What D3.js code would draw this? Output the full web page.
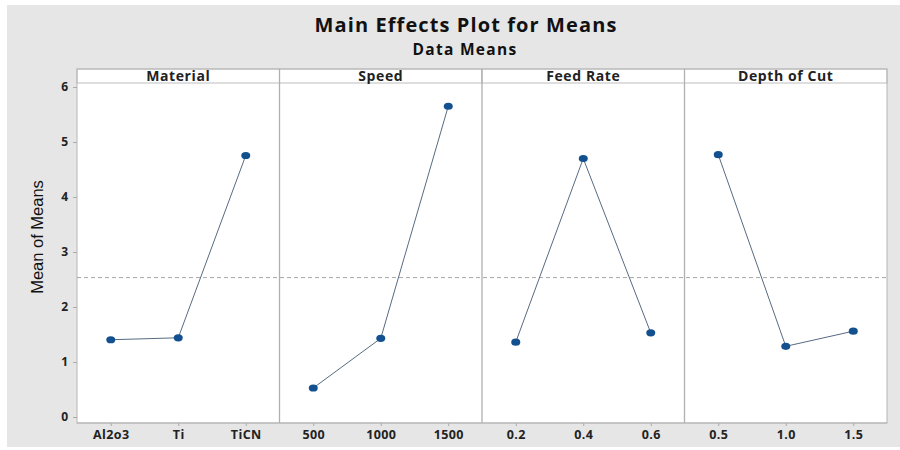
<!DOCTYPE html>
<html>
<head>
<meta charset="utf-8">
<script src="https://cdn.jsdelivr.net/npm/d3@7"></script>
<style>
  html, body { margin: 0; padding: 0; background: #ffffff; }
  svg { display: block; }
</style>
</head>
<body>
<svg id="chart" width="900" height="450"></svg>
<script>
// Factor names and their levels
const factors = ["Material", "Speed", "Feed Rate", "Depth of Cut"];
const materialLevels = ["Al2o3", "Ti", "TiCN"];
const speedLevels = ["500", "1000", "1500"];
const feedLevels = ["0.2", "0.4", "0.6"];
const depthLevels = ["0.5", "1.0", "1.5"];

// Mean of means for each factor level
const materialMeans = [1.405, 1.44, 4.755];
const speedMeans = [0.527, 1.43, 5.65];
const feedMeans = [1.36, 4.70, 1.53];
const depthMeans = [4.77, 1.285, 1.56];

// Overall mean (reference line)
const grandMean = 2.535;

// Y axis ticks
const yTicks = [0, 1, 2, 3, 4, 5, 6];

const levelSets = [materialLevels, speedLevels, feedLevels, depthLevels];
const meanSets = [materialMeans, speedMeans, feedMeans, depthMeans];

const svg = d3.select("#chart");
const W = 900, H = 450;
const uiFont = "'Open Sans', 'Noto Sans', sans-serif";

// Outer gray backdrop
svg.append("rect")
  .attr("x", 7).attr("y", 5).attr("width", W - 7).attr("height", 442)
  .attr("fill", "#e6e6e6");

// Titles
svg.append("text")
  .attr("x", 466).attr("y", 32)
  .attr("text-anchor", "middle")
  .attr("font-family", uiFont)
  .attr("font-weight", 700)
  .attr("font-size", 20)
  .attr("letter-spacing", 1.1)
  .attr("fill", "#111")
  .text("Main Effects Plot for Means");
svg.append("text")
  .attr("x", 465).attr("y", 55)
  .attr("text-anchor", "middle")
  .attr("font-family", uiFont)
  .attr("font-weight", 700)
  .attr("font-size", 15.5)
  .attr("letter-spacing", 1.3)
  .attr("fill", "#111")
  .text("Data Means");

// Plot geometry
const left = 77, right = 887;
const stripTop = 69, stripBottom = 83, plotBottom = 423;

const y = d3.scaleLinear().domain([0, 6]).range([417, 87]);

const panelBand = d3.scaleBand().domain(factors).range([left, right]).padding(0);

// Plot area and strips
factors.forEach((f, i) => {
  const x0 = panelBand(f);
  const g = svg.append("g");
  g.append("rect")
    .attr("x", x0).attr("y", stripBottom)
    .attr("width", panelBand.bandwidth()).attr("height", plotBottom - stripBottom)
    .attr("fill", "#ffffff");
  g.append("rect")
    .attr("x", x0).attr("y", stripTop)
    .attr("width", panelBand.bandwidth()).attr("height", stripBottom - stripTop)
    .attr("fill", "#ffffff")
    .attr("stroke", "#bdbdbd").attr("stroke-width", 1);
  g.append("text")
    .attr("x", x0 + panelBand.bandwidth() / 2).attr("y", stripTop + 11.5)
    .attr("text-anchor", "middle")
    .attr("font-family", uiFont)
    .attr("font-weight", 700)
    .attr("font-size", 14)
    .attr("letter-spacing", 0.6)
    .attr("fill", "#222")
    .text(f);
});

// Panel frame and dividers
svg.append("rect")
  .attr("x", left).attr("y", stripTop)
  .attr("width", right - left).attr("height", plotBottom - stripTop)
  .attr("fill", "none").attr("stroke", "#b5b5b5").attr("stroke-width", 1);
factors.slice(1).forEach(f => {
  svg.append("line")
    .attr("x1", panelBand(f)).attr("x2", panelBand(f))
    .attr("y1", stripTop).attr("y2", plotBottom)
    .attr("stroke", "#b0b0b0").attr("stroke-width", 1.3);
});

// Y axis
const yAxis = d3.axisLeft(y).tickValues(yTicks).tickSize(4).tickPadding(5).tickFormat(d3.format("d"));
const yg = svg.append("g").attr("transform", `translate(${left},0)`).call(yAxis);
yg.select(".domain").remove();
yg.selectAll(".tick line").attr("stroke", "#aaa");
yg.selectAll(".tick text")
  .attr("font-family", uiFont)
  .attr("font-weight", 700).attr("font-size", 12).attr("fill", "#222");

svg.append("text")
  .attr("transform", "translate(43,237) rotate(-90)")
  .attr("text-anchor", "middle")
  .attr("font-family", "'Liberation Sans Narrow', 'Arial Narrow', 'Liberation Sans', sans-serif")
  .attr("font-size", 16.5)
  .attr("fill", "#111")
  .text("Mean of Means");

// Grand mean reference line
svg.append("line")
  .attr("x1", left).attr("x2", right)
  .attr("y1", y(grandMean)).attr("y2", y(grandMean))
  .attr("stroke", "#a8a8a8").attr("stroke-width", 1)
  .attr("stroke-dasharray", "4,3");

// Per-factor effect lines and points
factors.forEach((f, i) => {
  const x = d3.scalePoint()
    .domain(levelSets[i])
    .range([panelBand(f), panelBand(f) + panelBand.bandwidth()])
    .padding(0.5);

  const data = levelSets[i].map((lv, j) => ({ lv, v: meanSets[i][j] }));

  const xAxis = d3.axisBottom(x).tickSize(3).tickPadding(4);
  const xg = svg.append("g").attr("transform", `translate(0,${plotBottom})`).call(xAxis);
  xg.select(".domain").remove();
  xg.selectAll(".tick line").attr("stroke", "#aaa");
  xg.selectAll(".tick text")
    .attr("font-family", uiFont)
    .attr("font-weight", 700).attr("font-size", 12.5)
    .attr("letter-spacing", 0.4).attr("fill", "#222");

  svg.append("path")
    .datum(data)
    .attr("fill", "none")
    .attr("stroke", "#566b82")
    .attr("stroke-width", 1)
    .attr("d", d3.line().x(d => x(d.lv)).y(d => y(d.v)));

  svg.selectAll(null)
    .data(data)
    .enter().append("ellipse")
    .attr("cx", d => x(d.lv)).attr("cy", d => y(d.v))
    .attr("rx", 4.5).attr("ry", 3.6)
    .attr("fill", "#13508f");
});

// Bottom axis line
svg.append("line")
  .attr("x1", left).attr("x2", right)
  .attr("y1", plotBottom).attr("y2", plotBottom)
  .attr("stroke", "#b5b5b5").attr("stroke-width", 1);
</script>
</body>
</html>
